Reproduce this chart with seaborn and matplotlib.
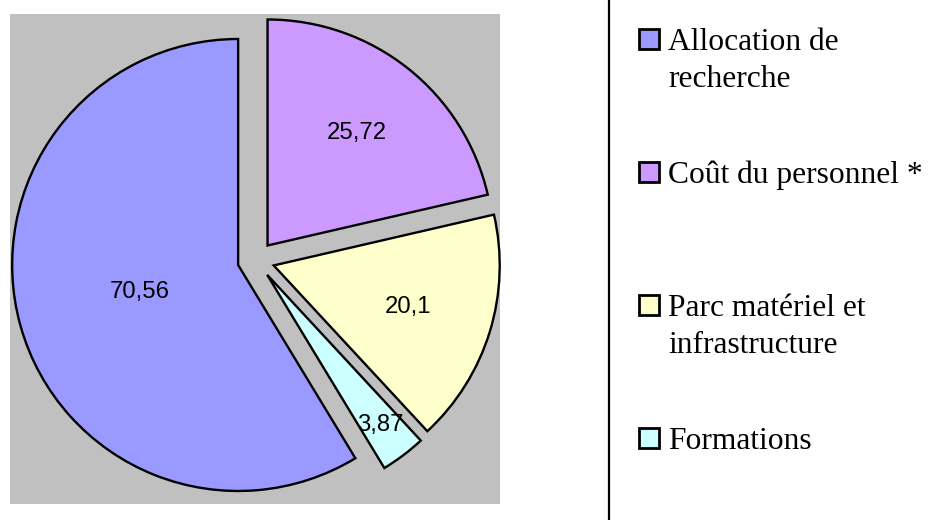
import numpy as np
import matplotlib
matplotlib.use('Agg')
import matplotlib.pyplot as plt
from matplotlib.patches import Rectangle
from matplotlib.lines import Line2D
import seaborn as sns

sns.set_style('white')
plt.rcParams['font.family'] = ['Liberation Sans', 'DejaVu Sans']
plt.rcParams['text.color'] = 'black'

# data (legend order)
categories = ['Allocation de\nrecherche', 'Coût du personnel *',
              'Parc matériel et\ninfrastructure', 'Formations']
values = [70.56, 25.72, 20.1, 3.87]
colors = ['#9999FF', '#CC99FF', '#FFFFCC', '#CCFFFF']

# pie goes counter-clockwise from 12 o'clock in this order
pie_order = [0, 3, 2, 1]
label_frac = [0.45, 0.83, 0.62, 0.635]

W, H = 938, 520
fig = plt.figure(figsize=(W / 100, H / 100), dpi=100)

# plot area (grey square)
ax = fig.add_axes([10 / W, 16 / H, 490 / W, 490 / H])
wedges, _ = ax.pie([values[i] for i in pie_order],
                   colors=[colors[i] for i in pie_order],
                   explode=[0.082] * 4, startangle=90, counterclock=True,
                   wedgeprops=dict(edgecolor='black', linewidth=1.7))
ax.set_frame_on(True)
for s in ax.spines.values():
    s.set_visible(False)
ax.set_facecolor('#C0C0C0')
ax.set_xlim(-246 / 226, 244 / 226)
ax.set_ylim(-244 / 226, 246 / 226)
ax.set_aspect('equal')

for w, i, f in zip(wedges, pie_order, label_frac):
    mid = np.deg2rad((w.theta1 + w.theta2) / 2)
    cx, cy = w.center
    ax.text(cx + f * w.r * np.cos(mid), cy + f * w.r * np.sin(mid),
            f"{values[i]:g}".replace('.', ','),
            ha='center', va='center', fontsize=17.2, color='black')

# separator line of the legend box
fig.add_artist(Line2D([609 / W, 609 / W], [0, 1], transform=fig.transFigure,
                      color='black', linewidth=1.6))

# legend entries
for k, (lab, col) in enumerate(zip(categories, colors)):
    top = 29 + 133 * k
    fig.add_artist(Rectangle((639 / W, 1 - (top + 20) / H), 20 / W, 20 / H,
                             transform=fig.transFigure, facecolor=col,
                             edgecolor='black', linewidth=2))
    fig.text(668 / W, 1 - (top - 1) / H, lab, ha='left', va='top',
             fontsize=22.7, family=['Liberation Serif', 'DejaVu Serif'],
             linespacing=1.38, color='black')

fig.savefig('out.png', dpi=100)
